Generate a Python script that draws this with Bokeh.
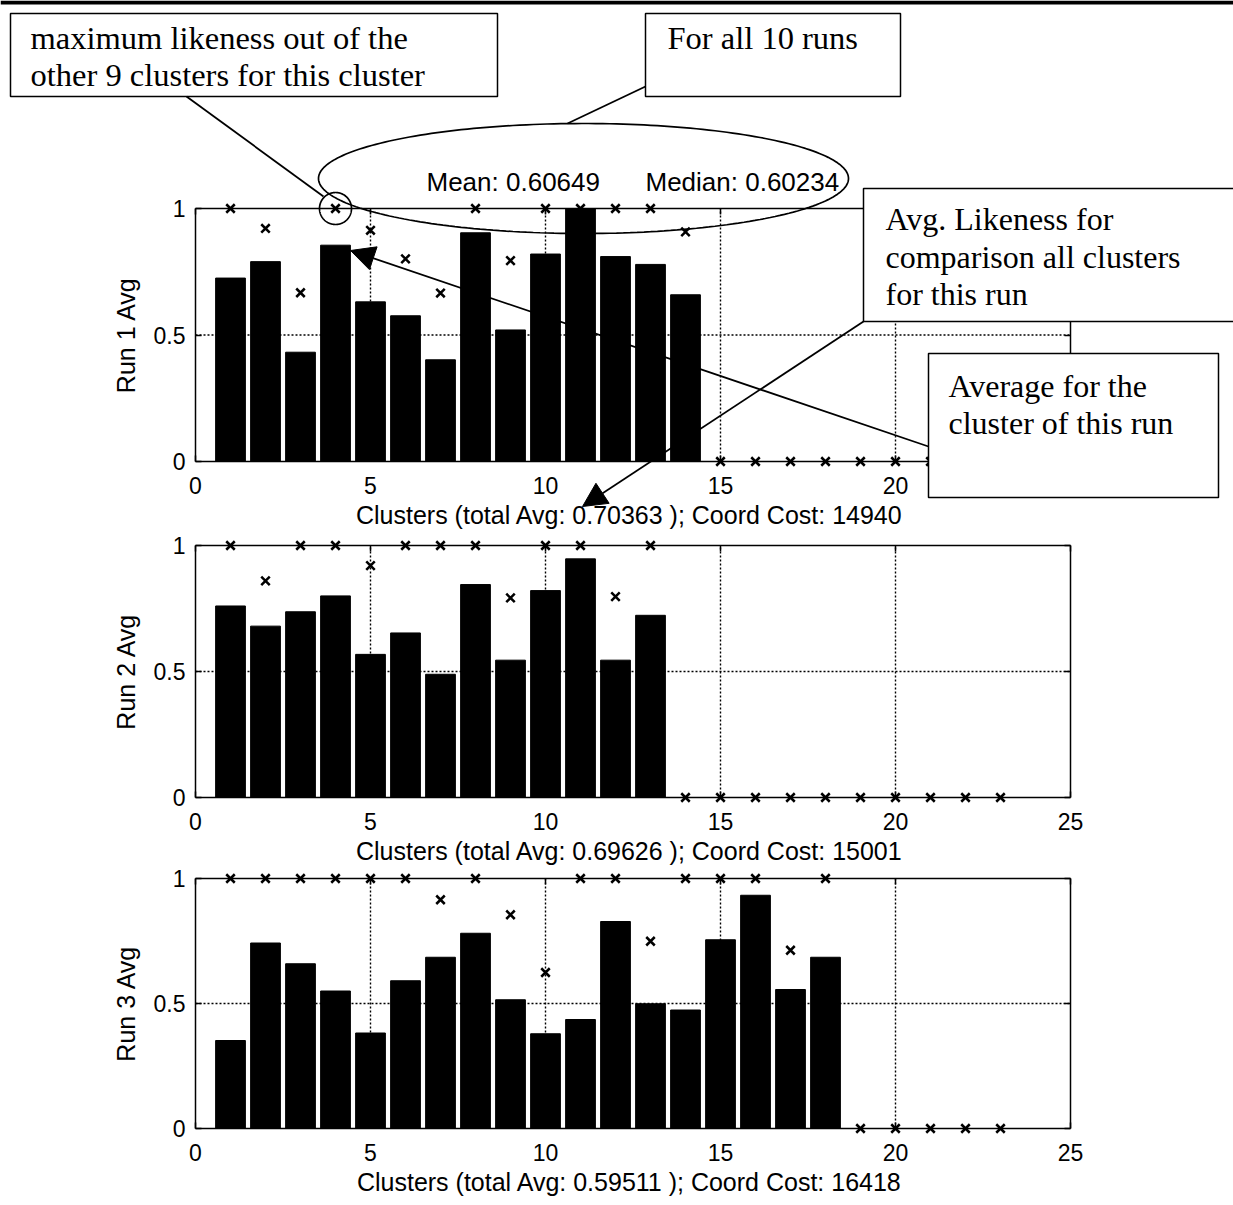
import numpy as np
from bokeh.plotting import figure
from bokeh.layouts import column
from bokeh.models import (Range1d, LinearAxis, FixedTicker, Label, Arrow, NormalHead,
                          BoxAnnotation, PolyAnnotation)
from bokeh.embed import file_html
from bokeh.resources import INLINE

# ---------------- data ----------------
run_names = ["Run 1 Avg", "Run 2 Avg", "Run 3 Avg"]
total_avg = ["0.70363", "0.69626", "0.59511"]
coord_cost = [14940, 15001, 16418]
all_clusters = list(range(1, 24))

run1_avg = [0.725, 0.790, 0.432, 0.855, 0.631, 0.576, 0.402, 0.904, 0.520, 0.820,
            1.000, 0.810, 0.779, 0.659]
run2_avg = [0.760, 0.680, 0.737, 0.800, 0.568, 0.653, 0.489, 0.845, 0.545, 0.821,
            0.947, 0.545, 0.723]
run3_avg = [0.352, 0.742, 0.659, 0.550, 0.382, 0.591, 0.685, 0.781, 0.515, 0.379,
            0.436, 0.828, 0.499, 0.474, 0.755, 0.933, 0.556, 0.685]

run1_max = [1.0, 0.921, 0.667, 1.0, 0.914, 0.801, 0.666, 1.0, 0.794, 1.0, 1.0, 1.0, 1.0,
            0.908, 0, 0, 0, 0, 0, 0, 0, 0, 0]
run2_max = [1.0, 0.860, 1.0, 1.0, 0.920, 1.0, 1.0, 1.0, 0.792, 1.0, 1.0, 0.797, 1.0,
            0, 0, 0, 0, 0, 0, 0, 0, 0, 0]
run3_max = [1.0, 1.0, 1.0, 1.0, 1.0, 1.0, 0.915, 1.0, 0.855, 0.624, 1.0, 1.0, 0.749,
            1.0, 1.0, 1.0, 0.713, 1.0, 0, 0, 0, 0, 0]

x_ticks = [0, 5, 10, 15, 20, 25]
y_ticks = [0, 0.5, 1]
y_tick_text = {0: "0", 0.5: "0.5", 1: "1"}
mean_all = "0.60649"
median_all = "0.60234"

# ---------------- layout constants ----------------
W = 1233
X_LEFT = 195          # page x of cluster 0
PXU = 35.0            # px per cluster unit
SANS = "Liberation Sans"
SERIF = "Liberation Serif"


def style_axis(ax, show_labels):
    ax.axis_line_color = "black"
    ax.axis_line_width = 1.5
    ax.major_tick_in = 6
    ax.major_tick_out = 0
    ax.major_tick_line_color = "black"
    ax.major_tick_line_width = 1.5
    ax.minor_tick_line_color = None
    ax.major_label_text_font = SANS
    ax.major_label_text_font_size = "23px"
    ax.major_label_text_color = "black" if show_labels else None
    ax.axis_label_text_font = SANS
    ax.axis_label_text_font_size = "25px"
    ax.axis_label_text_font_style = "normal"
    ax.axis_label_text_color = "black"


def make_panel(h, y1_px, y0_px, avg, mx, ylab, xlab):
    unit = float(y0_px - y1_px)
    p = figure(width=W, height=h,
               x_range=Range1d(-X_LEFT / PXU, (W - X_LEFT) / PXU),
               y_range=Range1d((y0_px - h) / unit, y0_px / unit),
               output_backend="svg", toolbar_location=None, min_border=0,
               outline_line_color=None, background_fill_color="white",
               border_fill_color="white")
    p.xgrid.visible = False
    p.ygrid.visible = False

    gx = [t for t in x_ticks if x_ticks[0] < t < x_ticks[-1]]
    gy = [t for t in y_ticks if y_ticks[0] < t < y_ticks[-1]]
    p.segment(x0=gx, y0=[y_ticks[0]] * len(gx), x1=gx, y1=[y_ticks[-1]] * len(gx),
              line_color="black", line_width=1.4, line_dash="2 2")
    p.segment(x0=[x_ticks[0]] * len(gy), y0=gy, x1=[x_ticks[-1]] * len(gy), y1=gy,
              line_color="black", line_width=1.4, line_dash="2 2")

    p.vbar(x=list(range(1, len(avg) + 1)), top=avg, width=0.85,
           fill_color="black", line_color="black")
    p.scatter(x=all_clusters, y=mx, marker="x", size=12, line_width=2.5,
              line_color="black")

    xb = p.xaxis[0]
    style_axis(xb, True)
    xb.fixed_location = y_ticks[0]
    xb.bounds = (x_ticks[0], x_ticks[-1])
    xb.ticker = FixedTicker(ticks=x_ticks)
    xb.major_label_standoff = 15
    xb.axis_label = xlab
    xb.axis_label_standoff = 4

    yl = p.yaxis[0]
    style_axis(yl, True)
    yl.fixed_location = x_ticks[0]
    yl.bounds = (y_ticks[0], y_ticks[-1])
    yl.ticker = FixedTicker(ticks=y_ticks)
    yl.major_label_overrides = y_tick_text
    yl.major_label_standoff = 10
    yl.axis_label = ylab
    yl.axis_label_standoff = 11

    xt = LinearAxis(fixed_location=y_ticks[-1], bounds=(x_ticks[0], x_ticks[-1]),
                    ticker=FixedTicker(ticks=x_ticks))
    style_axis(xt, False)
    p.add_layout(xt, "above")
    yr = LinearAxis(fixed_location=x_ticks[-1], bounds=(y_ticks[0], y_ticks[-1]),
                    ticker=FixedTicker(ticks=y_ticks))
    style_axis(yr, False)
    p.add_layout(yr, "right")
    return p


def xlabel(i):
    return "Clusters  (total Avg: %s ); Coord Cost: %d" % (total_avg[i], coord_cost[i])


H1 = 531
P1_TOP, P1_BOT = 208, 461
p1 = make_panel(H1, P1_TOP, P1_BOT, run1_avg, run1_max, run_names[0], xlabel(0))
p2 = make_panel(334, 14, 266, run2_avg, run2_max, run_names[1], xlabel(1))
p3 = make_panel(339, 13, 263, run3_avg, run3_max, run_names[2], xlabel(2))

# ---------------- annotations on panel 1 (page pixel coordinates) ----------------
p1.extra_x_ranges = {"page": Range1d(0, W)}
p1.extra_y_ranges = {"page": Range1d(H1, 0)}
PG = dict(x_range_name="page", y_range_name="page")
UNIT1 = float(P1_BOT - P1_TOP)


def box(l, r, t, b):
    p1.add_layout(BoxAnnotation(left=l, right=r, top=t, bottom=b, fill_color="white",
                                fill_alpha=1.0, line_color="black", line_width=1.5,
                                line_alpha=1.0, **PG))


def text(x, y, s, font, size):
    p1.add_layout(Label(x=x, y=y, text=s, text_font=font, text_font_size=size,
                        text_baseline="middle", text_align="left",
                        text_color="black", **PG))


def line(x0, y0, x1, y1, head=False):
    p1.add_layout(Arrow(x_start=x0, y_start=y0, x_end=x1, y_end=y1,
                        end=NormalHead(size=24, fill_color="black", line_color="black")
                        if head else None,
                        line_color="black", line_width=1.8, **PG))


def ring(cx_page, cy_page, rx_px, ry_px):
    # outline drawn in panel-1 data units, converted from page pixels
    t = np.linspace(0, 2 * np.pi, 240)
    cx = (cx_page - X_LEFT) / PXU
    cy = (P1_BOT - cy_page) / UNIT1
    p1.add_layout(PolyAnnotation(xs=list(cx + rx_px / PXU * np.cos(t)),
                                 ys=list(cy + ry_px / UNIT1 * np.sin(t)),
                                 fill_color=None, fill_alpha=0, line_color="black",
                                 line_alpha=1.0, line_width=1.7))


# page top rule
p1.add_layout(BoxAnnotation(left=0, right=W, top=0, bottom=4, fill_color="black",
                            fill_alpha=1.0, line_color=None, **PG))

# ellipse around mean / median
ring(583, 178, 265, 55)
text(426, 181, "Mean: " + mean_all, SANS, "26px")
text(645, 181, "Median: " + median_all, SANS, "26px")

# circle around the max marker of cluster 4
ring(X_LEFT + all_clusters[3] * PXU, P1_BOT - run1_max[3] * UNIT1, 16, 16)

# text boxes
box(10, 497, 13, 96)
text(30, 37, "maximum likeness out of the", SERIF, "32.5px")
text(30, 74, "other 9 clusters for this cluster", SERIF, "32.5px")
line(186, 96, 323, 196)

box(645, 900, 13, 96)
text(667, 37, "For all 10 runs", SERIF, "32.5px")
line(645, 86, 567, 123)

box(863, 1245, 188, 321)
text(885, 218, "Avg. Likeness for", SERIF, "32px")
text(885, 256, "comparison all clusters", SERIF, "32px")
text(885, 293, "for this run", SERIF, "32px")

box(928, 1218, 353, 497)
text(948, 385, "Average for the", SERIF, "32px")
text(948, 422, "cluster of this run", SERIF, "32px")

line(928, 446, 350, 250, head=True)
line(863, 321, 582, 506, head=True)

layout = column(p1, p2, p3, spacing=0)
open("out.html", "w").write(file_html(layout, INLINE))
